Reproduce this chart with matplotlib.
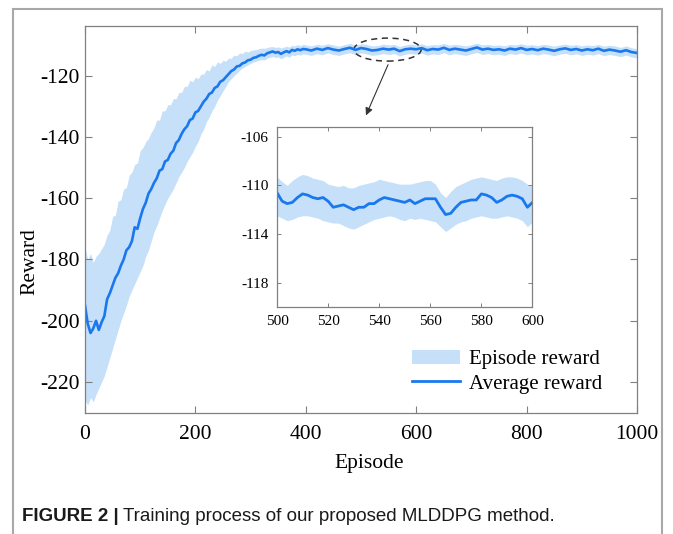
import matplotlib
matplotlib.use("Agg")
import matplotlib.pyplot as plt
from matplotlib.patches import Ellipse, Patch, Rectangle
from matplotlib.lines import Line2D

plt.rcParams['font.family'] = ['Liberation Serif', 'DejaVu Serif']
plt.rcParams['axes.unicode_minus'] = False

# ---- data ----
# episodes 0..395 every 5, then 400..1000 every 10
episodes = list(range(0, 400, 5)) + list(range(400, 1001, 10))

avg_reward = [
    -195, -201, -204, -202.5, -200, -203, -200.5, -198.5, -193, -191,
    -188.5, -186, -184.5, -182, -180, -177, -176, -174, -169.5, -170,
    -166.5, -163.5, -161.5, -158.5, -157, -155, -153.5, -151, -150.5, -148,
    -147.5, -145.5, -144.5, -142, -141, -139, -137.5, -136.5, -134.5, -134,
    -132, -131.5, -130, -128.5, -127.5, -126, -125.5, -124, -123.5, -122,
    -121.5, -120.5, -119.5, -118.5, -118, -117, -116.8, -116, -115.7, -115,
    -114.8, -114.2, -114, -113.5, -113.2, -113.4, -112.7, -112.4, -112.1, -112.5,
    -112.3, -112.9, -112.4, -112.0, -112.4, -111.6, -111.9, -111.4, -111.7, -111.3,
    # 400 .. 1000
    -111.4, -111.8, -111.2, -111.6, -111.0, -111.5, -111.8, -111.3, -110.9, -111.6,
    -111.0, -111.3, -111.8, -111.6, -111.2, -111.5, -111.2, -112.0, -111.4, -111.2,
    -111.4, -111.0, -111.7, -111.3, -111.5, -110.9, -111.6, -111.2, -111.5, -111.8,
    -111.3, -110.8, -111.5, -111.2, -111.6, -111.4, -111.8, -111.2, -111.5, -111.0,
    -111.6, -111.3, -111.7, -111.2, -111.5, -111.9, -111.4, -111.1, -111.6, -111.3,
    -111.8, -111.4, -111.7, -111.2, -111.9, -111.5, -111.8, -112.2, -111.7, -112.3,
    -112.6,
]

ep_upper = [
    -176, -180, -178, -181, -179, -178, -176.5, -175, -172, -170.5,
    -166, -165.5, -161, -160.5, -157, -156.5, -152.5, -151.5, -149, -148.5,
    -144.5, -143.5, -141.5, -140.5, -138.5, -137, -134.5, -134.5, -131.5, -131.5,
    -129.5, -129.5, -127.5, -127.5, -125.5, -125.5, -123.5, -123.5, -121.5, -122,
    -120.5, -121, -119.5, -119.5, -118, -118.5, -116.5, -117, -115.5, -116,
    -115, -115.3, -114.3, -114.3, -113.3, -113.5, -112.6, -112.8, -112.0, -112.3,
    -111.8, -111.6, -111.5, -111.2, -111.0, -111.1, -110.8, -110.6, -110.5, -110.8,
    -110.6, -111.0, -110.7, -110.4, -110.7, -110.1, -110.3, -109.9, -110.2, -109.8,
    # 400 .. 1000
    -110.0, -110.3, -109.8, -110.1, -109.6, -110.0, -110.4, -109.9, -109.5, -110.1,
    -109.6, -109.8, -110.3, -110.2, -109.7, -110.0, -109.8, -110.5, -110.0, -109.7,
    -110.0, -109.6, -110.2, -109.9, -110.0, -109.5, -110.1, -109.8, -110.0, -110.3,
    -109.9, -109.4, -110.0, -109.8, -110.1, -110.0, -110.3, -109.8, -110.0, -109.6,
    -110.1, -109.9, -110.2, -109.8, -110.0, -110.4, -110.0, -109.7, -110.1, -109.9,
    -110.3, -110.0, -110.2, -109.8, -110.4, -110.1, -110.3, -110.8, -110.3, -110.9,
    -111.2,
]

ep_lower = [
    -226, -227.5, -225, -226.5, -224, -222, -220, -218, -215, -212,
    -209, -206, -203, -200, -197.5, -195, -192, -190, -188, -186,
    -184, -182, -179, -177, -174, -171, -169, -166.5, -164, -162,
    -160, -158.5, -157, -155, -153, -151.5, -150, -148, -146.5, -145,
    -143, -141.5, -139, -137.5, -135, -133.5, -131.5, -130, -128, -126.5,
    -125, -123.5, -122, -121, -120, -119.2, -118.3, -117.5, -117, -116.5,
    -116, -115.6, -115.3, -115, -114.8, -114.9, -114.3, -114, -113.7, -114.1,
    -113.9, -114.5, -114.0, -113.6, -114.0, -113.2, -113.5, -113.0, -113.3, -112.9,
    # 400 .. 1000
    -113.0, -113.4, -112.8, -113.2, -112.6, -113.1, -113.4, -112.9, -112.5, -113.2,
    -112.6, -112.9, -113.4, -113.2, -112.8, -113.1, -112.8, -113.6, -113.0, -112.8,
    -113.0, -112.6, -113.3, -112.9, -113.1, -112.5, -113.2, -112.8, -113.1, -113.4,
    -112.9, -112.4, -113.1, -112.8, -113.2, -113.0, -113.4, -112.8, -113.1, -112.6,
    -113.2, -112.9, -113.3, -112.8, -113.1, -113.5, -113.0, -112.7, -113.2, -112.9,
    -113.4, -113.0, -113.3, -112.8, -113.5, -113.1, -113.4, -113.8, -113.3, -113.9,
    -114.2,
]

# zoomed window 500..600, every 2 episodes
zoom_episodes = list(range(500, 601, 2))
zoom_avg = [
    -110.6, -111.3, -111.5, -111.4, -111.0, -110.7, -110.8, -111.0, -111.1, -111.0,
    -111.3, -111.8, -111.7, -111.6, -111.8, -112.0, -111.8, -111.8, -111.5, -111.5,
    -111.2, -111.0, -111.1, -111.2, -111.3, -111.4, -111.2, -111.5, -111.3, -111.1,
    -111.1, -111.1, -111.8, -112.4, -112.3, -111.8, -111.4, -111.3, -111.2, -111.2,
    -110.7, -110.8, -111.0, -111.4, -111.2, -110.9, -110.8, -110.9, -111.1, -111.8,
    -111.4,
]
zoom_upper = [
    -109.3, -109.7, -110.0, -109.6, -109.3, -109.1, -109.2, -109.4, -109.5, -109.6,
    -109.9, -110.0, -110.1, -110.0, -110.2, -110.2, -110.0, -109.9, -109.8, -109.7,
    -109.5, -109.6, -109.7, -109.8, -109.9, -109.9, -109.9, -109.8, -109.7, -109.6,
    -109.6, -109.9, -110.6, -111.0, -110.5, -110.1, -109.9, -109.7, -109.5, -109.4,
    -109.3, -109.4, -109.5, -109.6, -109.4, -109.3, -109.3, -109.4, -109.6, -109.9,
    -110.1,
]
zoom_lower = [
    -112.5, -112.7, -112.9, -112.8, -112.6, -112.5, -112.5, -112.6, -112.7, -112.9,
    -113.0, -113.1, -113.1, -113.3, -113.5, -113.6, -113.4, -113.2, -113.0, -112.8,
    -112.7, -112.6, -112.5, -112.6, -112.8, -112.9, -112.7, -112.8, -112.7, -112.8,
    -112.9, -113.0, -113.4, -113.8, -113.5, -113.2, -113.0, -112.9, -112.7, -112.6,
    -112.5, -112.6, -112.7, -112.7, -112.6, -112.5, -112.6, -112.7, -112.9, -113.4,
    -113.0,
]

x_ticks = [0, 200, 400, 600, 800, 1000]
y_ticks = [-220, -200, -180, -160, -140, -120]
zoom_x_ticks = [500, 520, 540, 560, 580, 600]
zoom_y_ticks = [-118, -114, -110, -106]

line_color = '#1a78ee'
band_color = '#c6e0f9'
spine_color = '#808080'

fig = plt.figure(figsize=(6.73, 5.34), dpi=100)

# outer grey frame of the figure panel
fig.patches.append(Rectangle((0.0193, -0.02), 0.9644, 1.003, transform=fig.transFigure,
                             fill=False, edgecolor='#a8a8a8', linewidth=1.5))

# ---- main axes ----
ax = fig.add_axes([0.1263, 0.2272, 0.8202, 0.7241])
ax.fill_between(episodes, ep_lower, ep_upper, color=band_color, linewidth=0)
ax.plot(episodes, avg_reward, color=line_color, linewidth=1.9)
ax.set_xlim(0, 1000)
ax.set_ylim(-230, -103.8)
ax.set_xticks(x_ticks)
ax.set_yticks(y_ticks)
ax.tick_params(direction='in', top=True, right=True, length=5, width=0.8,
               color=spine_color, labelsize=15.5)
ax.tick_params(axis='x', pad=9)
ax.tick_params(axis='y', pad=4)
for s in ax.spines.values():
    s.set_color(spine_color)
    s.set_linewidth(0.9)
ax.set_xlabel('Episode', fontsize=15.5)
ax.set_ylabel('Reward', fontsize=15.5)
ax.xaxis.set_label_coords(0.514, -0.108)
ax.yaxis.set_label_coords(-0.083, 0.39)

# dashed ellipse marking the zoomed window + arrow
ax.add_patch(Ellipse((548, -111.5), width=122, height=7.5, fill=False,
                     edgecolor='#333333', linewidth=1.1, linestyle=(0, (4, 3))))
ax.annotate('', xy=(507, -133.8), xytext=(551, -115.6),
            arrowprops=dict(arrowstyle='-|>', color='#333333', lw=0.8, mutation_scale=11))

# legend
handles = [Patch(facecolor=band_color, edgecolor='none'),
           Line2D([0], [0], color=line_color, linewidth=2)]
fig.legend(handles, ['Episode reward', 'Average reward'], loc='upper left',
           bbox_to_anchor=(0.612, 0.345), frameon=False, fontsize=15,
           handlelength=2.3, handletextpad=0.45, labelspacing=0.22,
           borderpad=0, borderaxespad=0)

# ---- inset ----
axin = fig.add_axes([0.4116, 0.4251, 0.3796, 0.3371])
axin.fill_between(zoom_episodes, zoom_lower, zoom_upper, color=band_color, linewidth=0)
axin.plot(zoom_episodes, zoom_avg, color=line_color, linewidth=2)
axin.set_xlim(500, 600)
axin.set_ylim(-120, -105.2)
axin.set_xticks(zoom_x_ticks)
axin.set_yticks(zoom_y_ticks)
axin.tick_params(direction='in', top=True, right=True, length=3, width=0.7,
                 color=spine_color, labelsize=11)
axin.tick_params(axis='x', pad=6)
axin.tick_params(axis='y', pad=6)
for s in axin.spines.values():
    s.set_color(spine_color)
    s.set_linewidth(0.9)

# ---- caption ----
cap1 = fig.text(0.033, 0.032, 'FIGURE 2 |', fontsize=13.5, fontweight='bold',
                family=['Liberation Sans', 'DejaVu Sans'], color='#1a1a1a', va='center')
fig.canvas.draw()
bb = cap1.get_window_extent()
fig.text(bb.x1 / fig.bbox.width + 0.006, 0.032,
         'Training process of our proposed MLDDPG method.', fontsize=13.5,
         family=['Liberation Sans', 'DejaVu Sans'], color='#1a1a1a', va='center')

fig.savefig('out.png', dpi=100)
